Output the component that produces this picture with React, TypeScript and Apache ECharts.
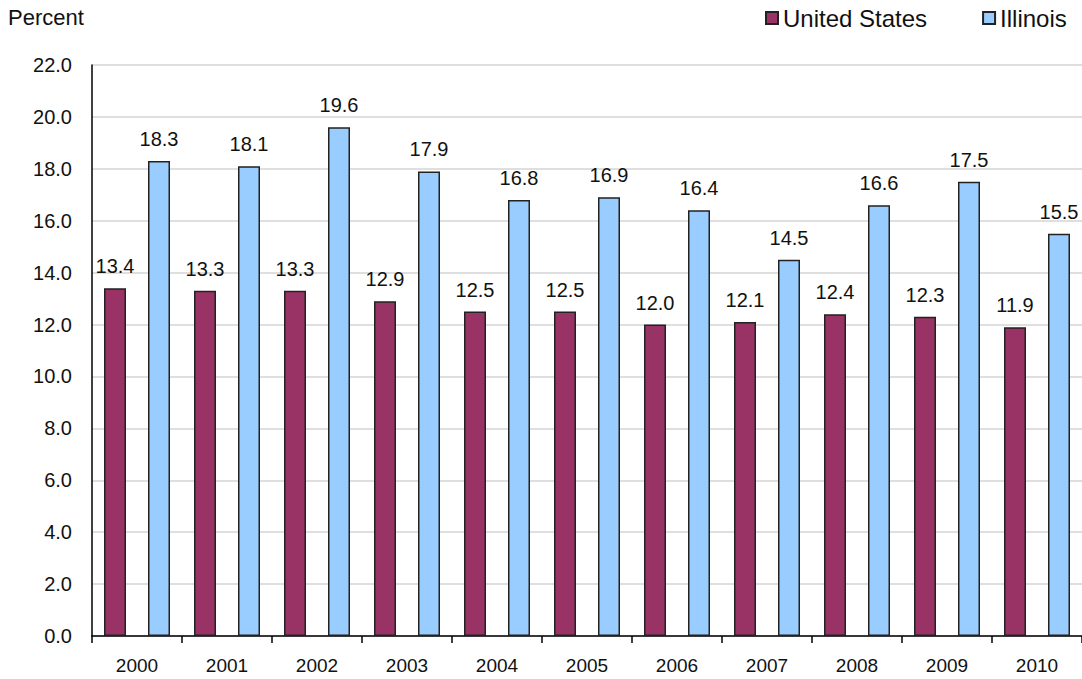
import React, { useEffect, useRef } from "react";
import * as echarts from "echarts";

const years = ["2000", "2001", "2002", "2003", "2004", "2005", "2006", "2007", "2008", "2009", "2010"];
const usValues = [13.4, 13.3, 13.3, 12.9, 12.5, 12.5, 12.0, 12.1, 12.4, 12.3, 11.9];
const ilValues = [18.3, 18.1, 19.6, 17.9, 16.8, 16.9, 16.4, 14.5, 16.6, 17.5, 15.5];
const seriesNames = ["United States", "Illinois"];

const FONT = "'Liberation Sans', Arial, sans-serif";

export default function App() {
  const ref = useRef<HTMLDivElement>(null);
  useEffect(() => {
    if (!ref.current) return;
    const chart = echarts.init(ref.current, null, { renderer: "svg" });
    const label = {
      show: true,
      position: "top",
      distance: 12,
      fontSize: 20,
      fontFamily: FONT,
      color: "#111",
      formatter: (p: any) => Number(p.value).toFixed(1),
    };
    chart.setOption({
      animation: false,
      backgroundColor: "#fff",
      textStyle: { fontFamily: FONT },
      graphic: [
        {
          type: "text",
          left: 8,
          top: 6,
          style: { text: "Percent", fontSize: 22, fontFamily: FONT, fill: "#111" },
        },
      ],
      legend: {
        left: 760,
        top: 1,
        itemWidth: 12,
        itemHeight: 12,
        itemGap: 55,
        icon: "rect",
        textStyle: { fontSize: 24, fontFamily: FONT, color: "#111" },
        data: seriesNames,
      },
      grid: { left: 92, top: 65, bottom: 43, right: -5, containLabel: false },
      xAxis: {
        type: "category",
        data: years,
        boundaryGap: true,
        axisLine: { show: true, lineStyle: { color: "#000", width: 1.5 } },
        axisTick: { show: true, length: 7, lineStyle: { color: "#000", width: 1.5 } },
        axisLabel: { fontSize: 19, fontFamily: FONT, color: "#111", margin: 20 },
      },
      yAxis: {
        type: "value",
        min: 0,
        max: 22,
        interval: 2,
        axisLine: { show: true, lineStyle: { color: "#000", width: 1.5 } },
        axisTick: { show: false },
        axisLabel: {
          fontSize: 20,
          fontFamily: FONT,
          color: "#111",
          margin: 20,
          formatter: (v: number) => v.toFixed(1),
        },
        splitLine: { show: true, lineStyle: { color: "#d4d4d4", width: 1.5 } },
      },
      series: [
        {
          name: seriesNames[0],
          type: "bar",
          data: usValues,
          barWidth: 22,
          barGap: "100%",
          itemStyle: { color: "#993366", borderColor: "#222", borderWidth: 1.5 },
          label,
        },
        {
          name: seriesNames[1],
          type: "bar",
          data: ilValues,
          barWidth: 22,
          barGap: "100%",
          itemStyle: { color: "#99CCFF", borderColor: "#222", borderWidth: 1.5 },
          label,
        },
      ],
    });
    return () => chart.dispose();
  }, []);
  return (
    <div
      ref={ref}
      style={{ position: "fixed", left: 0, top: 0, width: 1082, height: 679 }}
    />
  );
}
